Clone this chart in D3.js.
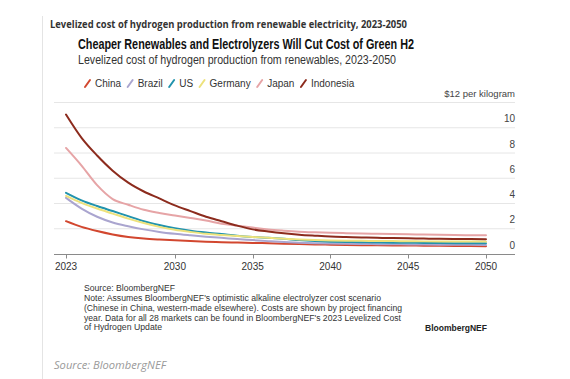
<!DOCTYPE html>
<html><head><meta charset="utf-8">
<script src="https://cdn.jsdelivr.net/npm/d3@7"></script>
<style>html,body{margin:0;padding:0;background:#fff;}svg{display:block;}</style>
</head><body>
<svg id="c" width="570" height="379"></svg>
<script>
const years = d3.range(2023, 2051);
const xTicks = [2023, 2030, 2035, 2040, 2045, 2050];
const yTicks = [0, 2, 4, 6, 8, 10, 12];
const seriesNames = ["China", "Brazil", "US", "Germany", "Japan", "Indonesia"];
const seriesColors = ["#d2472f", "#aaa5cf", "#2193ad", "#ede27c", "#e6a4a6", "#8c2b1d"];
const china = [2.6,2.15,1.82,1.55,1.35,1.22,1.14,1.08,1.03,0.98,0.94,0.91,0.88,0.85,0.82,0.79,0.76,0.74,0.72,0.7,0.69,0.68,0.67,0.66,0.65,0.64,0.63,0.62];
const brazil = [4.45,3.6,2.95,2.5,2.2,1.95,1.75,1.6,1.48,1.37,1.28,1.18,1.1,1.02,0.95,0.9,0.86,0.83,0.81,0.79,0.78,0.77,0.76,0.75,0.74,0.73,0.73,0.72];
const us = [4.85,4.25,3.8,3.4,3.0,2.6,2.3,2.05,1.85,1.7,1.58,1.45,1.35,1.28,1.2,1.1,1.03,0.98,0.95,0.93,0.91,0.9,0.89,0.88,0.87,0.86,0.86,0.85];
const germany = [4.6,4.05,3.6,3.2,2.8,2.45,2.15,1.92,1.75,1.6,1.5,1.42,1.35,1.28,1.2,1.14,1.1,1.07,1.05,1.04,1.03,1.02,1.01,1.0,1.0,0.99,0.99,0.98];
const japan = [8.4,7.0,5.45,4.35,3.9,3.5,3.25,3.05,2.85,2.65,2.4,2.25,2.1,1.95,1.85,1.77,1.72,1.68,1.65,1.62,1.6,1.58,1.56,1.54,1.52,1.5,1.49,1.48];
const indonesia = [11.05,9.2,7.8,6.6,5.65,4.95,4.4,3.85,3.4,2.95,2.6,2.25,1.95,1.78,1.64,1.53,1.45,1.38,1.34,1.31,1.28,1.26,1.24,1.22,1.2,1.19,1.18,1.17];
const seriesValues = [china, brazil, us, germany, japan, indonesia];
const footLines = [
  "Source: BloombergNEF",
  "Note: Assumes BloombergNEF's optimistic alkaline electrolyzer cost scenario",
  "(Chinese in China, western-made elsewhere). Costs are shown by project financing",
  "year. Data for all 28 markets can be found in BloombergNEF's 2023 Levelized Cost",
  "of Hydrogen Update"
];

const svg = d3.select("#c");
const SANS = "'Liberation Sans', Arial, sans-serif";

function txt(s, x, y, opt) {
  const t = svg.append("text").attr("x", x).attr("y", y).text(s)
    .attr("font-family", opt.family || SANS)
    .attr("font-size", opt.size)
    .attr("font-weight", opt.weight || "normal")
    .attr("font-style", opt.style || "normal")
    .attr("fill", opt.fill || "#333")
    .attr("text-anchor", opt.anchor || "start");
  if (opt.width) t.attr("textLength", opt.width).attr("lengthAdjust", "spacingAndGlyphs");
  return t;
}

// card border
svg.append("line").attr("x1", 42.5).attr("x2", 42.5).attr("y1", 16).attr("y2", 379)
  .attr("stroke", "#e4e4e4").attr("stroke-width", 1);

txt("Levelized cost of hydrogen production from renewable electricity, 2023-2050", 50, 28,
  {family: "'Open Sans', sans-serif", size: 11, weight: "bold", fill: "#333", width: 357});
txt("Cheaper Renewables and Electrolyzers Will Cut Cost of Green H2", 78, 49,
  {size: 14, weight: "bold", fill: "#111", width: 336});
txt("Levelized cost of hydrogen production from renewables, 2023-2050", 78, 63.5,
  {size: 12.5, fill: "#333", width: 318});

// legend
let lx = 85;
const ly = 87;
seriesNames.forEach((n, i) => {
  svg.append("line").attr("x1", lx).attr("y1", ly).attr("x2", lx + 5).attr("y2", ly - 7)
    .attr("stroke", seriesColors[i]).attr("stroke-width", 2).attr("stroke-linecap", "round");
  const t = txt(n, lx + 10, ly, {size: 10, fill: "#333"});
  lx = lx + 10 + t.node().getComputedTextLength() + 6.5;
});

const x = d3.scaleLinear().domain([2023, 2050]).range([66, 486]);
const y = d3.scaleLinear().domain([0, 12]).range([254, 102.5]);
const x0 = 54, x1 = 515;

// gridlines
yTicks.filter(v => v > 0).forEach(v => {
  svg.append("line").attr("x1", x0).attr("x2", x1).attr("y1", y(v)).attr("y2", y(v))
    .attr("stroke", "#e6e6e6").attr("stroke-width", 1);
});
// y labels
yTicks.forEach(v => {
  const lab = v === 12 ? "$12 per kilogram" : String(v);
  txt(lab, 515, y(v) - 5.5, {size: v === 12 ? 9.5 : 10, fill: "#444", anchor: "end"});
});

// lines
const line = d3.line().x((d, i) => x(years[i])).y(d => y(d)).curve(d3.curveMonotoneX);
seriesValues.forEach((vals, i) => {
  svg.append("path").attr("d", line(vals)).attr("fill", "none")
    .attr("stroke", seriesColors[i]).attr("stroke-width", 2)
    .attr("stroke-linejoin", "round").attr("stroke-linecap", "round");
});

// x axis
svg.append("line").attr("x1", x0).attr("x2", x1).attr("y1", 254.5).attr("y2", 254.5)
  .attr("stroke", "#8a8a8a").attr("stroke-width", 1);
xTicks.forEach(v => {
  svg.append("line").attr("x1", Math.round(x(v)) + 0.5).attr("x2", Math.round(x(v)) + 0.5)
    .attr("y1", 254.5).attr("y2", 258.5).attr("stroke", "#8a8a8a");
  txt(String(v), x(v), 270, {size: 10, fill: "#333", anchor: "middle"});
});

// footer
const footY = [291, 301, 311, 320.5, 330];
const footW = [91, 297, 318, 317, 78];
footLines.forEach((s, i) => {
  txt(s, 84, footY[i], {size: 8.5, fill: "#333", width: footW[i]});
});
txt("BloombergNEF", 425, 331, {size: 9.5, weight: "bold", fill: "#222", width: 62});

txt("Source: BloombergNEF", 54, 369,
  {family: "'Open Sans', sans-serif", size: 11, style: "italic", fill: "#999", width: 112});
</script>
</body></html>
